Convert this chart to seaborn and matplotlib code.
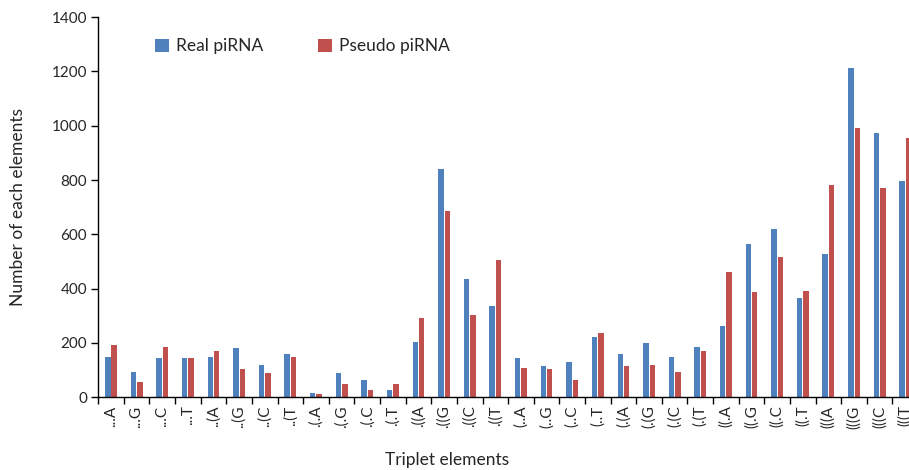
import pandas as pd
import matplotlib
matplotlib.use("Agg")
import matplotlib.pyplot as plt
import seaborn as sns

# triplet structure elements and counts
triplets = ["...A", "...G", "...C", "...T", "..(A", "..(G", "..(C", "..(T",
            ".(.A", ".(.G", ".(.C", ".(.T", ".((A", ".((G", ".((C", ".((T",
            "(..A", "(..G", "(..C", "(..T", "(.(A", "(.(G", "(.(C", "(.(T",
            "((.A", "((.G", "((.C", "((.T", "(((A", "(((G", "(((C", "(((T"]
real_pirna = [149, 92, 146, 146, 149, 182, 120, 160,
              16, 88, 64, 27, 202, 841, 435, 334,
              143, 116, 129, 220, 159, 201, 147, 186,
              263, 566, 620, 364, 528, 1214, 972, 796]
pseudo_pirna = [191, 56, 184, 146, 171, 102, 88, 148,
                10, 50, 26, 50, 293, 685, 301, 507,
                107, 102, 62, 235, 115, 119, 91, 171,
                462, 386, 516, 391, 783, 992, 772, 955]
series_names = ["Real piRNA", "Pseudo piRNA"]
colors = ["#4F81BD", "#C0504D"]

df = pd.DataFrame({
    "triplet": triplets * 2,
    "count": real_pirna + pseudo_pirna,
    "type": [series_names[0]] * len(triplets) + [series_names[1]] * len(triplets),
})

sns.set_style("white")
plt.rcParams["font.family"] = ["Lato", "DejaVu Sans"]

fig = plt.figure(figsize=(9.09, 4.70), dpi=100)
# axes runs past the right edge, like the cropped original
ax = fig.add_axes([0.108, 0.155, 0.902, 0.8085])

sns.barplot(data=df, x="triplet", y="count", hue="type", order=triplets,
            hue_order=series_names, palette=colors, saturation=1,
            width=0.5, gap=0.15, linewidth=0, ax=ax)

ax.set_xlim(-0.5, len(triplets) - 0.5)
ax.set_ylim(0, 1400)
ax.set_yticks(range(0, 1401, 200))

# labels in the middle, tick marks on category boundaries
ax.set_xticks(range(len(triplets)))
ax.set_xticklabels(triplets, rotation=90, fontsize=11)
ax.set_xticks([i - 0.5 for i in range(len(triplets) + 1)], minor=True)
ax.tick_params(axis="x", which="major", length=0, pad=6)
ax.tick_params(axis="x", which="minor", length=5, width=1, color="black", direction="out")
ax.tick_params(axis="y", length=5, width=1, color="black", direction="out", labelsize=11, pad=3)
ax.tick_params(bottom=True, left=True, which="both")

for side in ["top", "right"]:
    ax.spines[side].set_visible(False)
for side in ["left", "bottom"]:
    ax.spines[side].set_color("black")
    ax.spines[side].set_linewidth(1)

ax.set_xlabel("Triplet elements", fontsize=12.5)
ax.set_ylabel("Number of each elements", fontsize=12.5)
ax.xaxis.set_label_coords(0.425, -0.145)
ax.yaxis.set_label_coords(-0.088, 0.5)

ax.legend(loc="upper left", bbox_to_anchor=(0.05, 0.985), ncol=2, frameon=False,
          fontsize=12.5, handlelength=0.8, handleheight=0.8, handletextpad=0.4,
          columnspacing=3.2, title=None)

fig.savefig("out.png", dpi=100)
